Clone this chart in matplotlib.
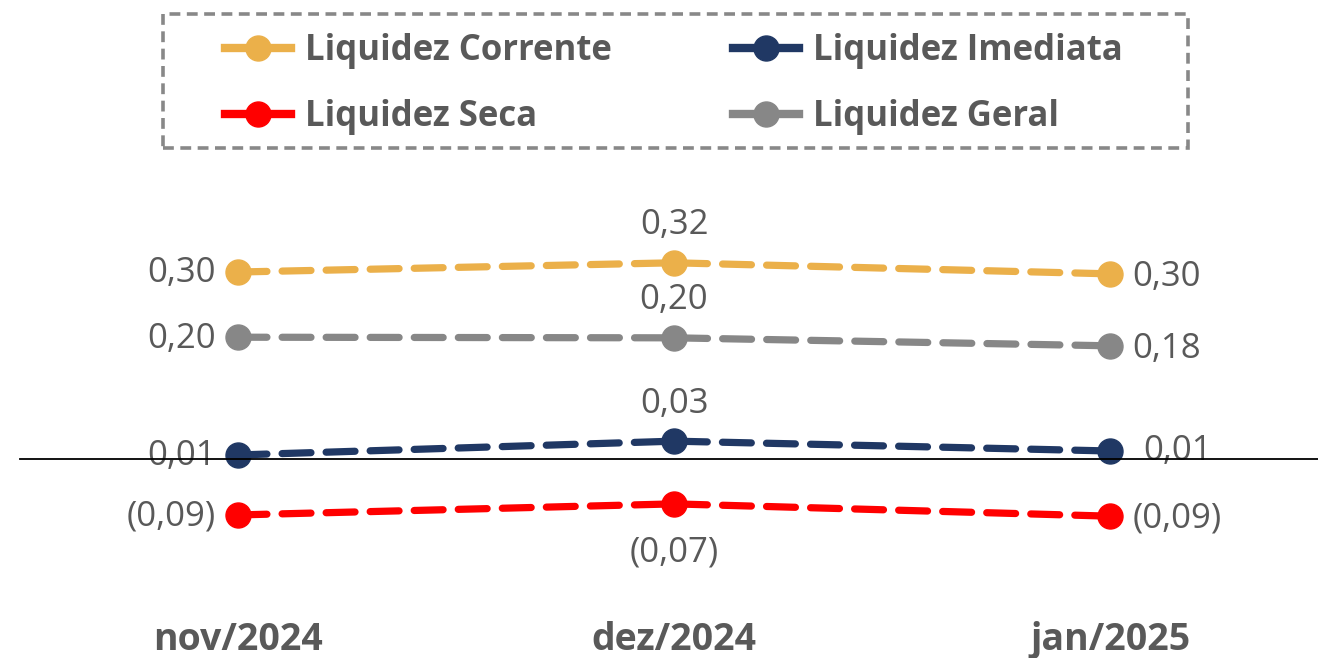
import matplotlib
matplotlib.use("Agg")
import matplotlib.pyplot as plt
from matplotlib.patches import Rectangle

plt.rcParams['font.family'] = ['Open Sans', 'DejaVu Sans']

meses = ["nov/2024", "dez/2024", "jan/2025"]
corrente = [0.304, 0.319, 0.301]
geral = [0.198, 0.197, 0.184]
imediata = [0.0065, 0.029, 0.013]
seca = [-0.091, -0.073, -0.093]

series = [
    ("Liquidez Corrente", corrente, "#EBB04A"),
    ("Liquidez Seca", seca, "#FF0000"),
    ("Liquidez Imediata", imediata, "#203864"),
    ("Liquidez Geral", geral, "#878787"),
]

texto = "#595959"


def fmt(v):
    s = f"{abs(v):.2f}".replace(".", ",")
    return f"({s})" if v < 0 else s


fig = plt.figure(figsize=(13.18, 6.58), dpi=100)
ax = fig.add_axes([0, 0, 1, 1])
ax.set_xlim(-0.546, 2.477)
ax.set_ylim(-0.3236, 0.7463)
ax.axis("off")

ax.axhline(0, xmin=20 / 1318, xmax=1, color="black", lw=1.3, zorder=5)

x = list(range(len(meses)))
handles = []
for nome, vals, cor in series:
    h, = ax.plot(x, vals, color=cor, lw=5.2, ls=(0, (4.0, 2.1)),
                 dash_capstyle="round", marker="o", ms=18, label=nome, zorder=3)
    handles.append(h)
    ax.annotate(fmt(vals[0]), (0, vals[0]), xytext=(-16, -1), textcoords="offset points",
                ha="right", va="center", fontsize=25, color=texto, zorder=1)
    dx = 24 if nome == "Liquidez Imediata" else 16
    ax.annotate(fmt(vals[2]), (2, vals[2]), xytext=(dx, -2 if vals[2] > 0.1 or vals[2] < 0 else 0),
                textcoords="offset points", ha="left", va="center", fontsize=25,
                color=texto, zorder=1)
    dy = -35 if vals[1] < 0 else 27
    ax.annotate(fmt(vals[1]), (1, vals[1]), xytext=(0, dy), textcoords="offset points",
                ha="center", va="center", fontsize=25, color=texto, zorder=1)

for i, m in enumerate(meses):
    ax.text(i, 0.028, m, transform=ax.get_xaxis_transform(), ha="center", va="center",
            fontsize=27, fontweight="bold", color=texto)

# moldura tracejada da legenda
fig.patches.append(Rectangle((163 / 1318, 510 / 658), 1025 / 1318, 134 / 658,
                             transform=fig.transFigure, fill=False, edgecolor="#888888",
                             lw=2.6, ls=(0, (3, 1.8))))

leg = fig.legend(handles=handles, loc="center", bbox_to_anchor=(0.5115, 0.8725), ncol=2,
                 frameon=False, handlelength=1.9, handletextpad=0.4,
                 columnspacing=3.5, labelspacing=0.87, borderpad=0,
                 prop={"weight": "bold", "size": 25})
for t in leg.get_texts():
    t.set_color(texto)
for lh in leg.get_lines():
    lh.set_linestyle("-")
    lh.set_linewidth(6)
    lh.set_markersize(18)

fig.savefig("out.png", dpi=100)
